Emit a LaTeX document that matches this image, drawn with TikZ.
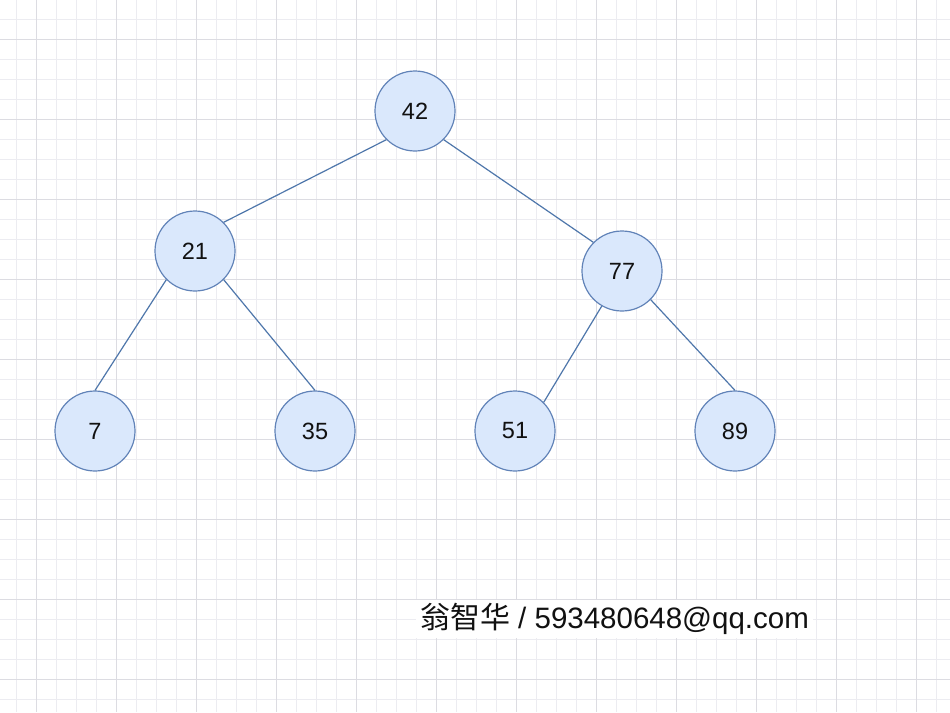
\documentclass[tikz,border=0pt]{standalone}
\usepackage{fontspec}
\setmainfont{Liberation Sans}
\newfontfamily\cjk{Noto Sans CJK SC}
\definecolor{nodefill}{HTML}{DAE8FC}
\definecolor{nodedraw}{HTML}{6183B8}
\definecolor{edgecol}{HTML}{4F77AB}
\definecolor{minorg}{HTML}{ECECF1}
\definecolor{majorg}{HTML}{DCDCE2}
\definecolor{txt}{HTML}{111111}
\begin{document}
\begin{tikzpicture}[x=1pt,y=-1pt,
  treenode/.style={circle,minimum size=80pt,inner sep=0pt,fill=nodefill,draw=nodedraw,line width=1.2pt,text=txt,font=\fontsize{23.5}{28}\selectfont},
  edge/.style={draw=edgecol,line width=1.2pt},
  minorgrid/.style={draw=minorg,line width=0.8pt},
  majorgrid/.style={draw=majorg,line width=0.8pt}]
\useasboundingbox[fill=white] (0,0) rectangle (950,712);
\foreach \x in {16,36,...,950} \draw[minorgrid] (\x,0) -- (\x,712);
\foreach \y in {19,39,...,712} \draw[minorgrid] (0,\y) -- (950,\y);
\foreach \x in {36,116,...,950} \draw[majorgrid] (\x,0) -- (\x,712);
\foreach \y in {39,119,...,712} \draw[majorgrid] (0,\y) -- (950,\y);

\node[treenode] (n42) at (415,111) {42};
\node[treenode] (n21) at (195,251) {21};
\node[treenode] (n77) at (622,271) {77};
\node[treenode] (n7)  at (95,431)  {7};
\node[treenode] (n35) at (315,431) {35};
\node[treenode] (n51) at (515,431) {51};
\node[treenode] (n89) at (735,431) {89};

\draw[edge] (n42.225) -- (n21.45);
\draw[edge] (n42.-45) -- (n77.135);
\draw[edge] (n21.225) -- (n7.north);
\draw[edge] (n21.-45) -- (n35.north);
\draw[edge] (n77.240) -- (n51.45);
\draw[edge] (n77.-45) -- (n89.north);

\node[fill=white,minimum width=397pt,minimum height=38pt,inner sep=0pt,text=txt,font=\fontsize{29.5}{34}\selectfont] (wm) at (614.5,619) {{\cjk\fontsize{30}{34}\selectfont 翁智华} / 593480648@qq.com};
\end{tikzpicture}
\end{document}
